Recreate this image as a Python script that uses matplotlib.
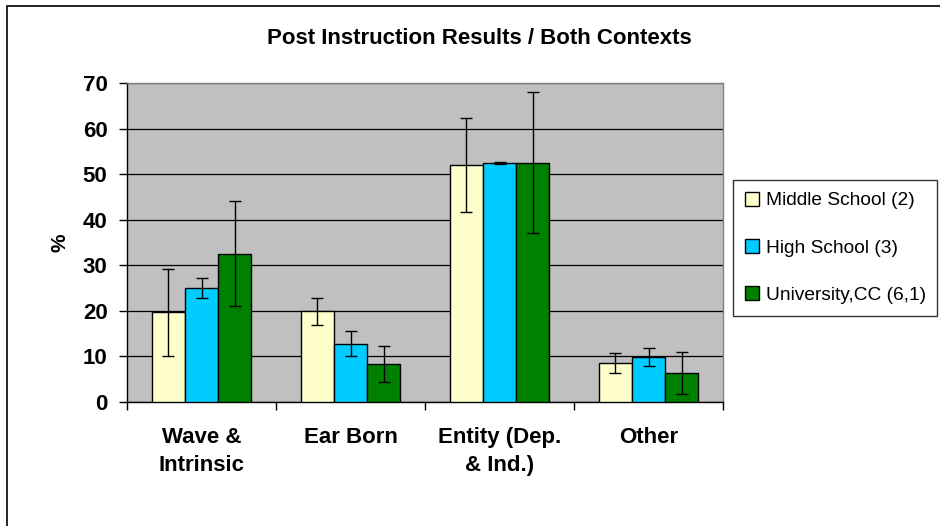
import matplotlib
matplotlib.use("Agg")
import matplotlib.pyplot as plt
import numpy as np
from matplotlib.patches import Rectangle

categories = ["Wave &\nIntrinsic", "Ear Born", "Entity (Dep.\n& Ind.)", "Other"]
series_names = ["Middle School (2)", "High School (3)", "University,CC (6,1)"]
middle = [19.7, 19.9, 52.0, 8.6]
middle_err = [9.5, 3.0, 10.4, 2.15]
high = [25.0, 12.8, 52.5, 9.8]
high_err = [2.2, 2.8, 0.2, 2.0]
univ = [32.5, 8.3, 52.5, 6.4]
univ_err = [11.5, 4.0, 15.5, 4.6]
colors = ["#FFFFCC", "#00CCFF", "#008000"]
yticks = [0, 10, 20, 30, 40, 50, 60, 70]

plt.rcParams['font.family'] = ['Liberation Sans', 'DejaVu Sans']

W, H = 940, 526
fig = plt.figure(figsize=(W / 100, H / 100), dpi=100)

# chart border
fig.patches.append(Rectangle((7 / W, -0.05), 1.2, 1 - 6 / H + 0.05, transform=fig.transFigure,
                             fill=False, edgecolor="black", linewidth=1.2, clip_on=False))

L, R, T, B = 127, 723, 83, 402
ax = fig.add_axes([L / W, 1 - B / H, (R - L) / W, (B - T) / H])
ax.set_facecolor("#C0C0C0")

x = np.arange(len(categories))
w = 1 / 4.5
data = [(middle, middle_err), (high, high_err), (univ, univ_err)]
for i, ((vals, errs), c, name) in enumerate(zip(data, colors, series_names)):
    ax.bar(x + (i - 1) * w, vals, w, color=c, edgecolor="black", linewidth=1.0,
           label=name, zorder=3, yerr=errs,
           error_kw=dict(ecolor="black", elinewidth=1.0, capsize=4.3, capthick=1.0, zorder=4))

ax.set_xlim(-0.5, len(categories) - 0.5)
ax.set_ylim(0, 70)
ax.set_yticks(yticks)
ax.set_yticklabels([str(v) for v in yticks], fontsize=16, fontweight="bold")
ax.yaxis.grid(True, color="black", linewidth=0.9, zorder=0)
ax.set_axisbelow(True)

ax.set_xticks(x)
ax.set_xticklabels(categories, fontsize=16, fontweight="bold", linespacing=1.45)
ax.tick_params(axis="x", length=0, pad=18)
ax.set_xticks(np.arange(-0.5, len(categories), 1), minor=True)
ax.tick_params(axis="x", which="minor", length=6, width=1, color="black")
ax.tick_params(axis="y", length=6, width=1, color="black", pad=8)

for s in ["top", "right"]:
    ax.spines[s].set_color("#808080")
    ax.spines[s].set_linewidth(1.0)
for s in ["left", "bottom"]:
    ax.spines[s].set_color("black")
    ax.spines[s].set_linewidth(1.0)

fig.text(60 / W, 1 - 243 / H, "%", rotation=90, ha="center", va="center",
         fontsize=15, fontweight="bold")

fig.text(479 / W, 1 - 38 / H, "Post Instruction Results / Both Contexts",
         ha="center", va="center", fontsize=16, fontweight="bold")

leg = fig.legend(loc="upper left", bbox_to_anchor=(733 / W, 1 - 180 / H), frameon=True,
                 fancybox=False, edgecolor="black", fontsize=13.8, handlelength=0.75,
                 handleheight=0.75, handletextpad=0.35, labelspacing=1.55,
                 borderpad=0.6, borderaxespad=0)
leg.get_frame().set_linewidth(1.0)

fig.savefig("out.png", dpi=100)
